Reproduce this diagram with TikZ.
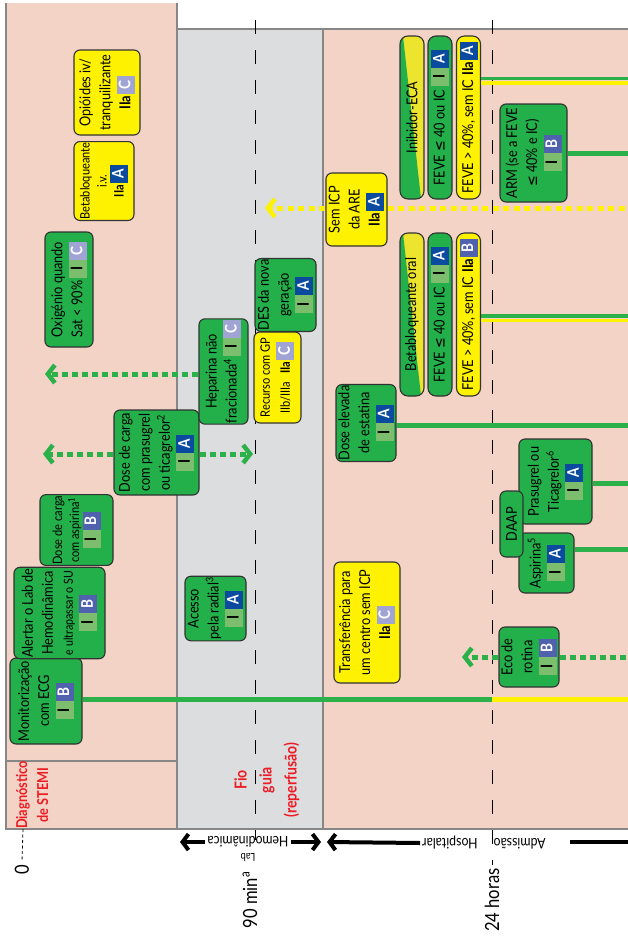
\documentclass[tikz,border=0pt]{standalone}
\usepackage{fontspec}
\setmainfont{Lato}[FakeStretch=0.85]
\newfontfamily\symbfont{DejaVu Sans}[FakeStretch=0.85]
\usetikzlibrary{arrows.meta}
\definecolor{bgpink}{RGB}{242,211,198}
\definecolor{bggray}{RGB}{220,221,223}
\definecolor{framegray}{RGB}{135,135,135}
\definecolor{boxgreen}{RGB}{35,176,75}
\definecolor{boxyel}{RGB}{255,242,0}
\definecolor{splityel}{RGB}{236,228,45}
\definecolor{boxline}{RGB}{50,50,50}
\definecolor{stemired}{RGB}{237,28,36}
\definecolor{clsI}{RGB}{125,190,110}
\definecolor{lvA}{RGB}{10,75,160}
\definecolor{lvB}{RGB}{80,98,174}
\definecolor{lvC}{RGB}{160,164,212}
\definecolor{tlgreen}{RGB}{43,176,74}
\newcommand{\bxfont}{\fontsize{15}{20}\selectfont}
\newcommand{\bxsmall}{\fontsize{13}{17}\selectfont}
\newcommand{\bxtiny}{\fontsize{12.5}{16}\selectfont}
\newcommand{\axfont}{\fontsize{14.5}{16}\selectfont}
\newcommand{\tkfont}{\fontsize{19.5}{20}\selectfont}
\newcommand{\rdfont}{\fontsize{15}{21}\selectfont\bfseries}
\newcommand{\rdbold}{\fontsize{16.5}{25}\selectfont\bfseries}
\newcommand{\lvcell}[3]{{\setlength{\fboxsep}{0pt}\colorbox{#1}{\makebox[18pt]{\rule[-4.5pt]{0pt}{18pt}\textcolor{#2}{\bfseries\fontsize{16}{16}\selectfont #3}}}}}
\newcommand{\recI}[1]{\lvcell{clsI}{black}{I}\lvcell{lv#1}{white}{#1}}
\newcommand{\recIIa}[1]{{\bfseries IIa}\hspace{2pt}\lvcell{lv#1}{white}{#1}}
\newcommand{\leqsym}{{\symbfont ≤}}
\begin{document}
\begin{tikzpicture}[x=1pt,y=-1pt,
  box/.style={draw=boxline,line width=1.1pt,rounded corners=6pt,rotate=90,align=center,inner sep=1pt,font=\bxfont},
  gbox/.style={box,fill=boxgreen},
  ybox/.style={box,fill=boxyel},
  dims/.style 2 args={minimum width=#1pt,minimum height=#2pt},
  slim/.style={rounded corners=8pt,dims={163}{24}},
  gridline/.style={black,line width=0.9pt,dash pattern=on 14pt off 16pt},
  tline/.style={tlgreen,line width=5pt},
  yline/.style={boxyel,line width=5pt},
  dotg/.style={tlgreen,line width=5pt,dash pattern=on 6pt off 4pt},
  doty/.style={boxyel,line width=5pt,dash pattern=on 6pt off 4.5pt},
  chev/.style={-{Straight Barb[length=7pt,width=18pt,line width=4.5pt]}},
  axarrow/.style={black,line width=4pt,-{Straight Barb[length=6pt,width=16pt,line width=4pt]}}]
\useasboundingbox (0,0) rectangle (628,938);
\fill[bgpink] (6,3) rectangle (177,829);
\draw[framegray,line width=1.2pt] (6,3) -- (6,829) -- (177,829) -- (177,3);
\draw[framegray,line width=1.2pt] (6,761) -- (177,761);
\fill[bggray] (177,29) rectangle (323,829);
\fill[bgpink] (323,29) rectangle (628,829);
\draw[framegray,line width=1.2pt] (177,829) -- (177,29) -- (628,29);
\draw[framegray,line width=1.2pt] (177,829) -- (628,829);
\draw[framegray,line width=1.2pt] (323,29) -- (323,829);

\node[rotate=90,font=\tkfont] (t0) at (22,870) {0};
\node[rotate=90,font=\tkfont] (t90) at (250,900) {90 min\textsuperscript{a}};
\node[rotate=90,font=\tkfont] (t24) at (492,900) {24 horas};
\draw[gridline] (255,20) -- (255,840);
\draw[gridline] (492,20) -- (t24.east);
\draw[black,line width=0.8pt,dash pattern=on 3pt off 2.5pt] (23,829) -- (t0.east);

\node[rotate=90,text=stemired,align=center,font=\rdfont] (stemi) at (32,795) {Diagnóstico\\de STEMI};
\node[rotate=90,text=stemired,align=center,font=\rdbold] (fio) at (267,780) {Fio\\guia\\(reperfusão)};

\node[rotate=180,font=\axfont,inner sep=2pt] (hemo) at (248,842) {Hemodinâmica};
\node[rotate=180,font=\fontsize{11}{12}\selectfont,inner sep=1pt] (lab) at (248,857) {Lab};
\coordinate (hemoL) at (180,842);
\coordinate (hemoR) at (321,842);
\draw[axarrow] (hemo.east) -- (hemoL);
\draw[axarrow] (hemo.west) -- (hemoR);
\node[rotate=180,font=\axfont,inner sep=2pt] (adm) at (484,843) {Admissão\hspace{16pt}Hospitalar};
\coordinate (admL) at (327,842);
\coordinate (admR0) at (570,842);
\coordinate (admR) at (628,842);
\draw[axarrow] (adm.east) -- (admL);
\draw[black,line width=4pt] (admR0) -- (admR);

\node[gbox,dims={86}{72}] (mon) at (46,701) {Monitorização\\com ECG\\\recI{B}};
\node[gbox,dims={84}{91}] (alert) at (59.5,613) {Alertar o Lab de\\Hemodinâmica\\{\bxtiny e ultrapassar o SU}\\\recI{B}};
\node[gbox,dims={68}{73},font=\bxsmall] (aspload) at (76.5,530) {Dose de carga\\com aspirina\textsuperscript{1}\\\recI{B}};
\node[gbox,dims={85}{85}] (prasload) at (156.5,452.5) {Dose de carga\\com prasugrel\\ou ticagrelor\textsuperscript{2}\\\recI{A}};
\node[gbox,dims={115}{48}] (oxy) at (69,289.5) {Oxigénio quando\\Sat < 90\%\hspace{3pt}\recI{C}};
\node[ybox,dims={78}{60},font=\bxsmall] (bbiv) at (104,181) {Betabloqueante\\i.v.\\\recIIa{A}};
\node[ybox,dims={85}{66}] (opi) at (107,92.5) {Opióides iv/\\tranquilizante\\\recIIa{C}};

\node[gbox,dims={61}{61}] (radial) at (215.5,608.5) {Acesso\\pela radial\textsuperscript{3}\\\recI{A}};
\node[gbox,dims={103}{49}] (hep) at (223.5,371.5) {Heparina não\\fracionada\textsuperscript{4}\hspace{3pt}\recI{C}};
\node[ybox,dims={91}{47},font=\fontsize{13}{20}\selectfont] (gp) at (277.5,377.5) {Recurso com GP\\IIb/IIIa\hspace{8pt}\recIIa{C}};
\node[gbox,dims={66}{61}] (des) at (285.5,295) {DES da nova\\geração\\\recI{A}};

\node[ybox,dims={73}{61}] (semicp) at (356.5,209.5) {Sem ICP\\da ARE\\\recIIa{A}};
\begin{scope}
  \clip[rounded corners=8pt] (400,36) rectangle (424,199);
  \fill[splityel] (400,36) rectangle (424,199);
  \fill[boxgreen] (400,36) -- (403,36) -- (421,199) -- (400,199) -- cycle;
\end{scope}
\node[box,slim] (ieca) at (412,117.5) {Inibidor-ECA};
\node[gbox,slim] (fevea) at (440,117.5) {FEVE \leqsym{} 40 ou IC\hspace{4pt}\recI{A}};
\node[ybox,slim] (feveb) at (468.5,117.5) {FEVE > 40\%, sem IC\hspace{4pt}\recIIa{A}};
\node[gbox,dims={98}{67}] (arm) at (533.5,153) {ARM (se a FEVE\\\leqsym{} 40\% e IC)\\\recI{B}};
\begin{scope}
  \clip[rounded corners=8pt] (400,233) rectangle (424,396);
  \fill[splityel] (400,233) rectangle (424,396);
  \fill[boxgreen] (400,233) -- (403,233) -- (421,396) -- (400,396) -- cycle;
\end{scope}
\node[box,slim] (bbo) at (412,314.5) {Betabloqueante oral};
\node[gbox,slim] (fevec) at (440,314.5) {FEVE \leqsym{} 40 ou IC\hspace{4pt}\recI{A}};
\node[ybox,slim] (feved) at (468.5,314.5) {FEVE > 40\%, sem IC\hspace{4pt}\recIIa{B}};
\node[gbox,dims={72}{60}] (stat) at (366,423) {Dose elevada\\de estatina\\\recI{A}};
\node[gbox,dims={85}{73}] (prasu) at (555.5,481.5) {Prasugrel ou\\Ticagrelor\textsuperscript{6}\\\recI{A}};
\node[gbox,dims={60}{55}] (aspd) at (546.5,563) {Aspirina\textsuperscript{5}\\\recI{A}};
\node[gbox,dims={66}{23}] (daap) at (511.5,524) {DAAP};
\node[ybox,dims={121}{66}] (transf) at (367,622.5) {Transferência para\\um centro sem ICP\\\recIIa{C}};
\node[gbox,dims={60}{60}] (eco) at (529,657) {Eco de\\rotina\\\recI{B}};

\coordinate (e0) at (628,699);
\coordinate (x24) at (492,699);
\draw[tline] (mon.south |- e0) -- (x24);
\draw[yline] (x24) -- (e0);
\coordinate (eA1) at (628,78.5);
\coordinate (eA2) at (628,83);
\draw[tline,line width=3.5pt] (feveb.south |- eA1) -- (eA1);
\draw[yline,line width=3.5pt] (feveb.south |- eA2) -- (eA2);
\coordinate (eB) at (628,153);
\draw[tline] (arm.south |- eB) -- (eB);
\coordinate (eC1) at (628,316);
\coordinate (eC2) at (628,320.5);
\draw[tline,line width=3.5pt] (feved.south |- eC1) -- (eC1);
\draw[yline,line width=3.5pt] (feved.south |- eC2) -- (eC2);
\coordinate (eD) at (628,425);
\draw[tline] (stat.south |- eD) -- (eD);
\coordinate (eF) at (628,483);
\draw[tline] (prasu.south |- eF) -- (eF);
\coordinate (eG) at (628,549);
\draw[tline] (aspd.south |- eG) -- (eG);
\coordinate (eE) at (628,657);
\coordinate (ecoL) at (462,657);
\draw[dotg] (eco.south |- eE) -- (eE);
\draw[dotg,chev] (eco.north |- eE) -- (ecoL);
\coordinate (eS) at (628,208);
\coordinate (semL) at (265,208);
\draw[doty] (semicp.south |- eS) -- (eS);
\draw[doty,chev] (semicp.north |- eS) -- (semL);
\coordinate (prasL) at (43,454);
\coordinate (prasR) at (253,454);
\draw[dotg,chev] (prasload.north |- prasL) -- (prasL);
\draw[dotg,chev] (prasload.south |- prasR) -- (prasR);
\coordinate (hepL) at (45,374);
\draw[dotg,chev] (hep.north |- hepL) -- (hepL);
\end{tikzpicture}
\end{document}
